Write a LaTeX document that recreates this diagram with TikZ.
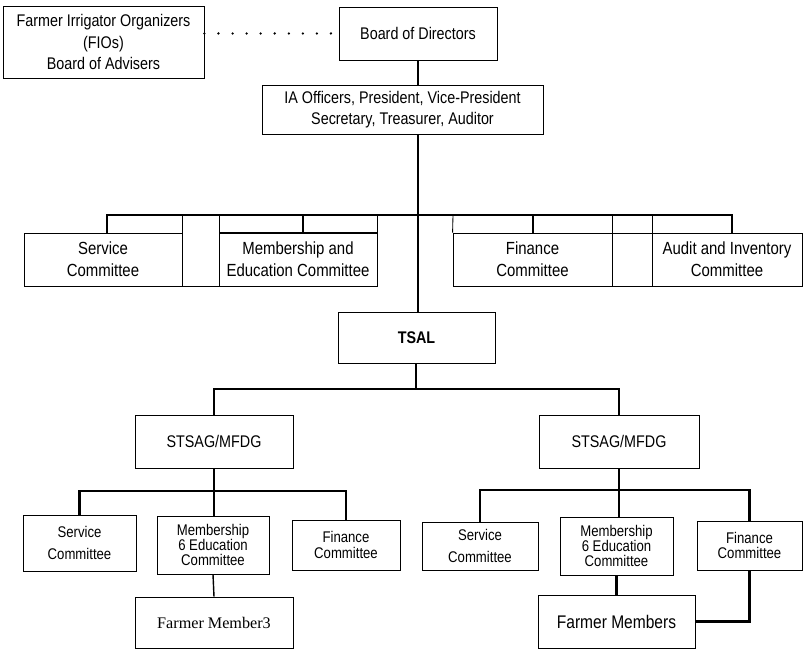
\documentclass[tikz,border=0pt]{standalone}
\usepackage{fontspec}
\setmainfont{Liberation Sans}[FakeStretch=0.85]
\newfontfamily\serifface{Liberation Serif}
\usetikzlibrary{calc}

\def\px{0.025cm}
\tikzset{
    box/.style={draw, line width=0.6pt, align=center, inner sep=1pt, font=\fontsize{12}{15}\selectfont},
    subbox/.style={box, font=\fontsize{11}{11}\selectfont},
    link/.style={line width=1.6pt},
    cell/.style={line width=0.6pt},
    dots/.style={line width=1.8pt, line cap=round, dash pattern=on 0pt off 10pt}
}

\begin{document}
\begin{tikzpicture}[x=0.025cm, y=-0.025cm]
    \useasboundingbox (0,0) rectangle (803,649);

    % Top of the association
    \node[box, minimum width=201*\px, minimum height=72*\px] (fio) at (103.5,42) {Farmer Irrigator Organizers\\(FIOs)\\Board of Advisers};
    \node[box, minimum width=158*\px, minimum height=53*\px] (bod) at (418,33.5) {Board of Directors};
    \node[box, minimum width=281*\px, minimum height=49*\px] (ia) at (402.5,109.5) {IA Officers, President, Vice-President\\Secretary, Treasurer, Auditor};
    \draw[dots] (fio.east |- bod.west) -- (bod.west);
    \draw[link] (bod.south) -- (bod.south |- ia.north);

    % Standing committees
    \node[box, font=\fontsize{12.5}{15.5}\selectfont, minimum width=158*\px, minimum height=53*\px] (serv) at (103,259.5) {Service\\Committee};
    \node[box, font=\fontsize{12.5}{15.5}\selectfont, minimum width=158*\px, minimum height=53*\px] (memb) at (298,259.5) {Membership and\\Education Committee};
    \node[box, font=\fontsize{12.5}{15.5}\selectfont, minimum width=159*\px, minimum height=53*\px] (fin) at (532.5,259.5) {Finance\\Committee};
    \node[box, font=\fontsize{12.5}{15.5}\selectfont, minimum width=150*\px, minimum height=53*\px] (aud) at (727,259.5) {Audit and Inventory\\Committee};
    \draw[cell] (182,215) rectangle (219,286);
    \draw[cell] (219,215) rectangle (memb.north east);
    \draw[cell] (453,215) -- (fin.north west);
    \draw[cell] (612,215) rectangle (652,286);
    \draw[cell] (612,233) -- (652,233);
    \draw[link] (107,233) |- (732,215) -- (aud.north -| 732,0);
    \draw[link] (303,215) -- (memb.north -| 303,0);
    \draw[link] (533,215) -- (fin.north -| 533,0);

    % TSAL
    \node[box, font=\fontsize{12}{15}\bfseries, minimum width=157*\px, minimum height=51*\px] (tsal) at (416.5,337.5) {TSAL};
    \draw[link] (ia.south -| 418,0) -- (tsal.north -| 418,0);

    % Sector groups
    \node[box, minimum width=158*\px, minimum height=53*\px] (stl) at (214,441.5) {STSAG/MFDG};
    \node[box, minimum width=160*\px, minimum height=53*\px] (str) at (619,441.5) {STSAG/MFDG};
    \draw[link] (tsal.south -| 416,0) -- (416,389);
    \draw[link] (stl.north) |- (416,389) -| (str.north);

    % Left group
    \node[subbox, minimum width=113*\px, minimum height=56*\px] (lserv) at (79.5,543) {Service\\[4pt]Committee};
    \node[subbox, minimum width=112*\px, minimum height=58*\px] (lmemb) at (213,545) {Membership\\6 Education\\Committee};
    \node[subbox, minimum width=108*\px, minimum height=50*\px] (lfin) at (346,545) {Finance\\Committee};
    \node[box, font=\serifface\fontsize{11.5}{13}\selectfont, minimum width=158*\px, minimum height=51*\px] (lfarm) at (214,622.5) {Farmer Member3};
    \draw[link] (stl.south) -- (lmemb.north -| stl.south);
    \draw[link] (lserv.north) |- (214,491) -| (lfin.north);
    \draw[line width=1pt] (lmemb.south) -- (lfarm.north);

    % Right group
    \node[subbox, minimum width=116*\px, minimum height=48*\px] (rserv) at (480,546) {Service\\[4pt]Committee};
    \node[subbox, minimum width=113*\px, minimum height=58*\px] (rmemb) at (616.5,546) {Membership\\6 Education\\Committee};
    \node[subbox, minimum width=105*\px, minimum height=49*\px] (rfin) at (749.5,545.5) {Finance\\Committee};
    \node[box, font=\fontsize{13}{15}\selectfont, minimum width=157*\px, minimum height=53*\px] (rfarm) at (616.5,621.5) {Farmer Members};
    \draw[link] (str.south) -- (rmemb.north -| str.south);
    \draw[link] (rserv.north) |- (619,490) -| (rfin.north);
    \draw[link] (rmemb.south) -- (rfarm.north);
    \draw[link] (rfin.south) |- (rfarm.east);
\end{tikzpicture}
\end{document}
